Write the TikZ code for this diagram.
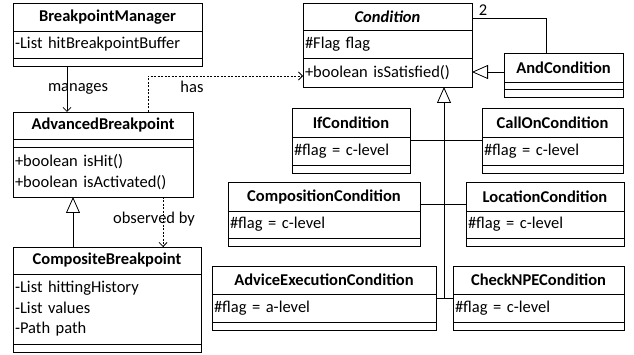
\documentclass[tikz,border=0pt]{standalone}
\usepackage{fontspec}
\setmainfont{Carlito}
\usetikzlibrary{arrows.meta,positioning}

\tikzset{
  box/.style={draw, line width=0.8pt, inner ysep=0pt, outer sep=0pt, anchor=north west},
  ttl/.style={box, inner xsep=0pt, align=center, font=\bfseries},
  att/.style={box, inner xsep=2pt, align=left},
  emp/.style={box, inner sep=0pt, minimum height=8pt},
  lnk/.style={line width=0.8pt},
  gen/.style={lnk, -{Triangle[open,length=16pt,width=14pt]}},
  arr/.style={lnk, -{Straight Barb[length=4pt,width=8pt]}},
  dep/.style={arr, dash pattern=on 2pt off 1.5pt},
}

\begin{document}
\fontsize{16.5}{20.5}\selectfont
\begin{tikzpicture}[x=1pt,y=-1pt]
 \useasboundingbox (0,0) rectangle (634,355);

 % breakpoint side
 \node[ttl, text width=189pt, minimum height=28pt] (bm-t) at (13,3) {BreakpointManager};
 \node[att, text width=185pt, minimum height=27pt, below=0pt of bm-t] (bm-a) {-List hitBreakpointBuffer};
 \node[emp, minimum width=189pt, below=0pt of bm-a] (bm-e) {};

 \node[ttl, text width=180pt, minimum height=27pt] (ab-t) at (13,112) {AdvancedBreakpoint};
 \node[emp, minimum width=180pt, below=0pt of ab-t] (ab-e) {};
 \node[att, text width=176pt, minimum height=50pt, below=0pt of ab-e] (ab-m) {+boolean isHit()\\+boolean isActivated()};

 \node[ttl, text width=188pt, minimum height=27pt] (cb-t) at (13,247) {CompositeBreakpoint};
 \node[att, text width=184pt, minimum height=70pt, below=0pt of cb-t] (cb-a) {-List hittingHistory\\-List values\\-Path path};
 \node[emp, minimum width=188pt, below=0pt of cb-a] (cb-e) {};

 % condition side
 \node[ttl, text width=169pt, minimum height=27pt] (cond-t) at (303,3) {\textit{Condition}};
 \node[att, text width=165pt, minimum height=28pt, below=0pt of cond-t] (cond-a) {\#Flag flag};
 \node[att, text width=165pt, minimum height=29pt, below=0pt of cond-a] (cond-m) {+boolean isSatisfied()};

 \node[ttl, text width=119pt, minimum height=29pt] (and-t) at (504,53) {AndCondition};
 \node[emp, minimum width=119pt, minimum height=7pt, below=0pt of and-t] (and-e1) {};
 \node[emp, minimum width=119pt, below=0pt of and-e1] (and-e2) {};

 \node[ttl, text width=118pt, minimum height=29pt] (if-t) at (292,108) {IfCondition};
 \node[att, text width=114pt, minimum height=28pt, below=0pt of if-t] (if-a) {\#flag = c-level};
 \node[emp, minimum width=118pt, below=0pt of if-a] (if-e) {};

 \node[ttl, text width=141pt, minimum height=29pt] (call-t) at (482,108) {CallOnCondition};
 \node[att, text width=137pt, minimum height=28pt, below=0pt of call-t] (call-a) {\#flag = c-level};
 \node[emp, minimum width=141pt, below=0pt of call-a] (call-e) {};

 \node[ttl, text width=192pt, minimum height=29pt] (comp-t) at (228,182) {CompositionCondition};
 \node[att, text width=188pt, minimum height=27pt, below=0pt of comp-t] (comp-a) {\#flag = c-level};
 \node[emp, minimum width=192pt, below=0pt of comp-a] (comp-e) {};

 \node[ttl, text width=158pt, minimum height=29pt] (loc-t) at (466,182) {LocationCondition};
 \node[att, text width=154pt, minimum height=27pt, below=0pt of loc-t] (loc-a) {\#flag = c-level};
 \node[emp, minimum width=158pt, below=0pt of loc-a] (loc-e) {};

 \node[ttl, text width=224pt, minimum height=28pt] (adv-t) at (212,266) {AdviceExecutionCondition};
 \node[att, text width=220pt, minimum height=28pt, below=0pt of adv-t] (adv-a) {\#flag = a-level};
 \node[emp, minimum width=224pt, below=0pt of adv-a] (adv-e) {};

 \node[ttl, text width=171pt, minimum height=28pt] (npe-t) at (453,266) {CheckNPECondition};
 \node[att, text width=167pt, minimum height=28pt, below=0pt of npe-t] (npe-a) {\#flag = c-level};
 \node[emp, minimum width=171pt, below=0pt of npe-a] (npe-e) {};

 % relations
 \draw[arr] ([xshift=54pt]bm-e.south west) coordinate (m1) -- (m1 |- ab-t.north);
 \node (manages) at (78,89) {manages};
 \draw[dep] ([xshift=135pt]ab-t.north west) coordinate (h1) |- ([yshift=-3.5pt]cond-m.west);
 \node (has) at (192,87) {has};
 \draw[dep] ([xshift=150pt]ab-m.south west) coordinate (o1) -- (o1 |- cb-t.north);
 \node (observed) at (154,219) {observed by};
 \draw[gen] ([xshift=60pt]cb-t.north west) coordinate (g1) -- (g1 |- ab-m.south);

 \draw[lnk] ([yshift=-1.5pt]cond-t.east) -| ([xshift=42pt]and-t.north west);
 \node (two) at (483,10) {2};
 \draw[gen] ([yshift=-4.5pt]and-t.west) coordinate (g2) -- (g2 -| cond-m.east);

 \draw[gen] ([yshift=-4pt]adv-a.north east) -| ([xshift=141pt]cond-m.south west);
 \draw[lnk] ([yshift=-4pt]adv-a.north east) coordinate (l3) -- (l3 -| npe-a.west);
 \draw[lnk] ([yshift=7pt]comp-t.south east) coordinate (l2) -- (l2 -| loc-t.west);
 \draw[lnk] ([yshift=-3pt]if-a.north east) coordinate (l1) -- (l1 -| call-a.west);
\end{tikzpicture}
\end{document}
